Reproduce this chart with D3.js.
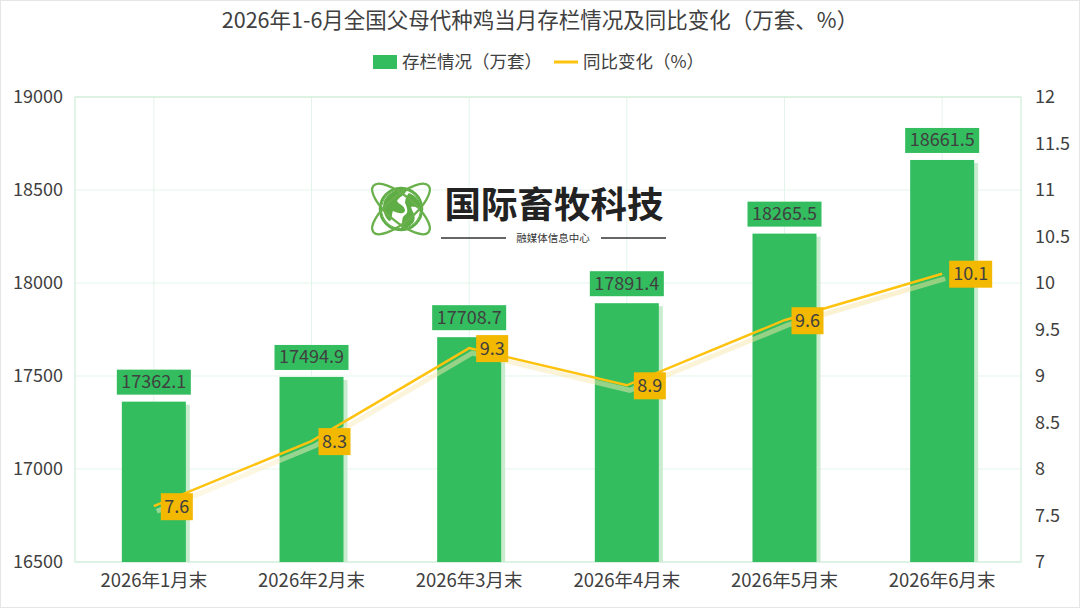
<!DOCTYPE html>
<html><head><meta charset="utf-8">
<script src="https://cdn.jsdelivr.net/npm/d3@7"></script>
<style>
html,body{margin:0;padding:0;background:#fff;}
svg{display:block;font-family:"Noto Sans CJK SC","Noto Sans",sans-serif;}
</style></head>
<body>
<script>
const categories = ["2026年1月末","2026年2月末","2026年3月末","2026年4月末","2026年5月末","2026年6月末"];
const stock = [17362.1,17494.9,17708.7,17891.4,18265.5,18661.5];
const yoy = [7.6,8.3,9.3,8.9,9.6,10.1];
const leftTicks = [16500,17000,17500,18000,18500,19000];
const rightTicks = [7,7.5,8,8.5,9,9.5,10,10.5,11,11.5,12];
const titleText = "2026年1-6月全国父母代种鸡当月存栏情况及同比变化（万套、%）";
const legendNames = ["存栏情况（万套）","同比变化（%）"];

const W=1080,H=608;
const m={l:75,r:1021,t:97,b:562};
const svg=d3.select("body").append("svg").attr("width",W).attr("height",H);
svg.append("rect").attr("x",0.5).attr("y",0.5).attr("width",W-1).attr("height",H-1).attr("fill","#fff").attr("stroke","#e6e6e6");

const x=d3.scaleBand().domain(categories).range([m.l,m.r]).paddingInner(0).paddingOuter(0);
const yL=d3.scaleLinear().domain([16500,19000]).range([m.b,m.t]);
const yR=d3.scaleLinear().domain([7,12]).range([m.b,m.t]);
const green="#33BD5F", yellow="#FFC20E", ybox="#F3B800", txt="#404040";
const defs=svg.append("defs");
const gr=defs.append("linearGradient").attr("id","sh").attr("x1",0).attr("x2",0).attr("y1",0).attr("y2",1);
gr.append("stop").attr("offset","0%").attr("stop-color","#f6e3a0");
gr.append("stop").attr("offset","100%").attr("stop-color","#fbf1cc");

// grid
const g=svg.append("g");
g.selectAll(".hg").data(leftTicks).join("line").attr("x1",m.l).attr("x2",m.r)
 .attr("y1",d=>yL(d)).attr("y2",d=>yL(d)).attr("stroke","#e3f5ea").attr("stroke-width",1);
g.selectAll(".vg").data(categories).join("line").attr("y1",m.t).attr("y2",m.b)
 .attr("x1",d=>x(d)+x.bandwidth()/2).attr("x2",d=>x(d)+x.bandwidth()/2).attr("stroke","#e3f5ea");
g.append("rect").attr("x",m.l).attr("y",m.t).attr("width",m.r-m.l).attr("height",m.b-m.t)
 .attr("fill","none").attr("stroke","#c8ecd4");

// axes
const axL=svg.append("g").attr("transform",`translate(${m.l},0)`).call(d3.axisLeft(yL).tickValues(leftTicks).tickSize(0).tickPadding(12).tickFormat(d3.format("d")));
const axR=svg.append("g").attr("transform",`translate(${m.r},0)`).call(d3.axisRight(yR).tickValues(rightTicks).tickSize(0).tickPadding(14).tickFormat(d=>String(d)));
const axB=svg.append("g").attr("transform",`translate(0,${m.b})`).call(d3.axisBottom(x).tickSize(0).tickPadding(12));
[axL,axR,axB].forEach(a=>{a.select(".domain").remove();a.selectAll("text").attr("fill",txt).style("font-size","18px").style("font-family","'Noto Sans CJK SC','Noto Sans',sans-serif");});
axB.selectAll("text").style("font-size","18.5px");

// logo watermark
const logo=svg.append("g").attr("transform","translate(401,209)");
logo.append("circle").attr("r",21).attr("fill","#fff").attr("stroke","#5fae45").attr("stroke-width",2.5);
logo.append("path").attr("d","M-17,-8 C-12,-18 -2,-21 6,-19 C4,-14 -2,-12 -4,-8 C-2,-4 4,-4 4,2 C2,6 -4,4 -8,2 C-10,6 -8,12 -12,12 C-18,6 -19,-2 -17,-8 Z M8,-16 C14,-14 19,-8 20,-2 C16,0 12,-4 10,-2 C12,4 16,8 12,14 C8,18 4,20 0,20 C2,14 0,8 4,6 C8,4 6,-2 4,-6 C4,-10 6,-14 8,-16 Z").attr("fill","#5fae45");
logo.append("ellipse").attr("rx",36).attr("ry",13).attr("transform","rotate(40)").attr("fill","none").attr("stroke","#6ab04c").attr("stroke-width",2.3);
logo.append("ellipse").attr("rx",36).attr("ry",13).attr("transform","rotate(-40)").attr("fill","none").attr("stroke","#6ab04c").attr("stroke-width",2.3);
logo.append("circle").attr("r",19.5).attr("fill","none").attr("stroke","#5fae45").attr("stroke-width",1);
svg.append("text").attr("x",554).attr("y",218).attr("text-anchor","middle").attr("fill","#222").style("font-size","36.5px").style("font-weight","700").text("国际畜牧科技");
svg.append("line").attr("x1",441).attr("x2",506).attr("y1",238).attr("y2",238).attr("stroke","#333").attr("stroke-width",1.5);
svg.append("line").attr("x1",601).attr("x2",666).attr("y1",238).attr("y2",238).attr("stroke","#333").attr("stroke-width",1.5);
svg.append("text").attr("x",553).attr("y",242).attr("text-anchor","middle").attr("fill","#333").style("font-size","10.5px").text("融媒体信息中心");

// bars
const bw=64;
const cx=d=>x(d)+x.bandwidth()/2;
svg.selectAll(".bs").data(stock).join("rect").attr("x",(d,i)=>cx(categories[i])-bw/2+4).attr("y",d=>yL(d)+3)
 .attr("width",bw).attr("height",d=>m.b-yL(d)-3).attr("fill","#c9eccf");
svg.selectAll(".bar").data(stock).join("rect").attr("x",(d,i)=>cx(categories[i])-bw/2).attr("y",d=>yL(d))
 .attr("width",bw).attr("height",d=>m.b-yL(d)).attr("fill",green);

// bar labels
const bl=svg.selectAll(".bl").data(stock).join("g").attr("transform",(d,i)=>`translate(${cx(categories[i])},${yL(d)-20})`);
bl.append("rect").attr("x",-37).attr("y",-12).attr("width",74).attr("height",25).attr("fill",green);
bl.append("text").attr("text-anchor","middle").attr("dy","0.36em").attr("fill",txt).style("font-size","18px").text(d=>d3.format(".1f")(d));

// line shadow + line
const line=d3.line().x((d,i)=>cx(categories[i])).y(d=>yR(d));
svg.append("path").datum(yoy).attr("d",line).attr("transform","translate(3,5)").attr("fill","none").attr("stroke","url(#sh)").attr("stroke-width",5).attr("opacity",0.5);
svg.append("path").datum(yoy).attr("d",line).attr("fill","none").attr("stroke",yellow).attr("stroke-width",2.5);

// line labels
const ll=svg.selectAll(".ll").data(yoy).join("g").attr("transform",(d,i)=>`translate(${cx(categories[i])+23},${yR(d)})`);
ll.append("rect").attr("x",-16).attr("y",-13).attr("width",d=>d>=10?43:32).attr("height",27).attr("fill",ybox);
ll.append("text").attr("x",d=>d>=10?5.5:0).attr("text-anchor","middle").attr("dy","0.36em").attr("fill",txt).style("font-size","18px").text(d=>d3.format(".1f")(d));

// title
svg.append("text").attr("x",540).attr("y",28).attr("text-anchor","middle").attr("fill",txt).style("font-size","21.5px").text(titleText);

// legend
const lg=svg.append("g");
lg.append("rect").attr("x",373).attr("y",55).attr("width",24).attr("height",14).attr("fill",green);
lg.append("text").attr("x",402).attr("y",62).attr("dy","0.36em").attr("fill",txt).style("font-size","17.5px").text(legendNames[0]);
lg.append("line").attr("x1",554).attr("x2",578).attr("y1",62).attr("y2",62).attr("stroke",yellow).attr("stroke-width",3);
lg.append("text").attr("x",583).attr("y",62).attr("dy","0.36em").attr("fill",txt).style("font-size","17.5px").text(legendNames[1]);
</script>
</body></html>
